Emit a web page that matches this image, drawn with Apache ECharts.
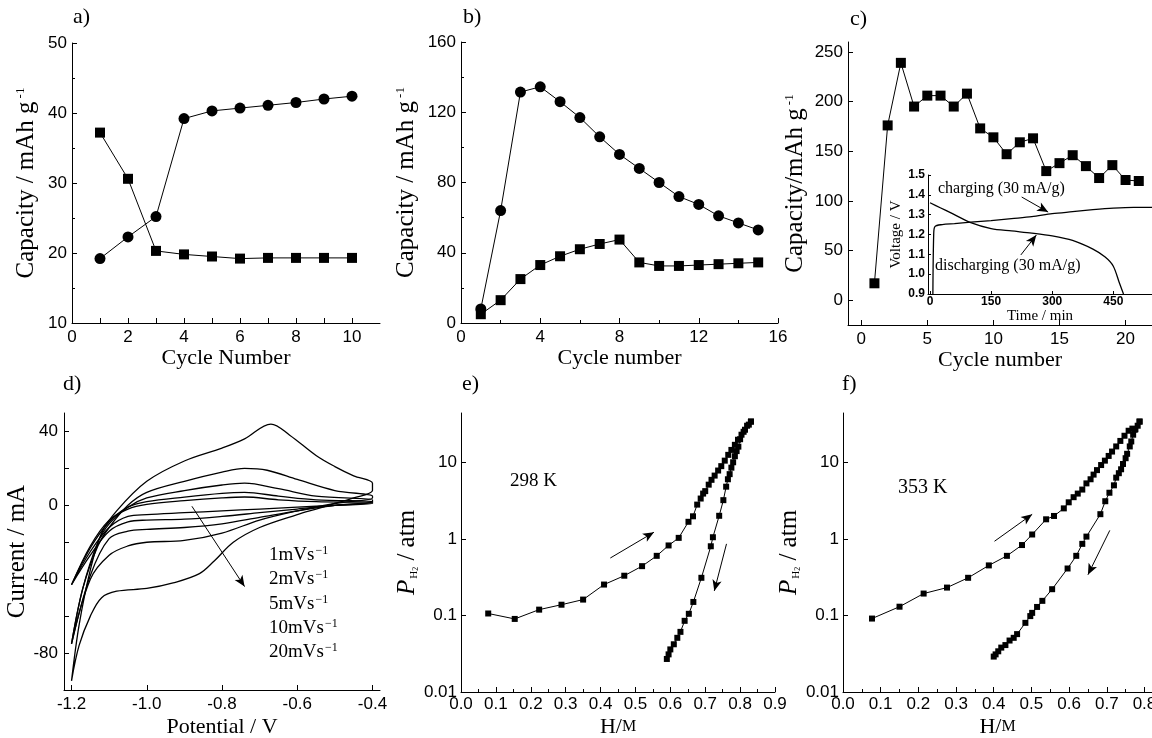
<!DOCTYPE html>
<html>
<head>
<meta charset="utf-8">
<script src="https://cdn.jsdelivr.net/npm/echarts@6/dist/echarts.min.js"></script>
<style>
html, body { margin: 0; padding: 0; background: #fff; }
#main { width: 1152px; height: 738px; }
</style>
</head>
<body>
<div id="main"></div>
<script>
// a)
const cyclesA = [1, 2, 3, 4, 5, 6, 7, 8, 9, 10];
const capA1 = [19.2, 22.3, 25.2, 39.2, 40.3, 40.7, 41.1, 41.5, 42.0, 42.4];
const capA2 = [37.2, 30.6, 20.3, 19.8, 19.5, 19.2, 19.3, 19.3, 19.3, 19.3];
// b)
const cyclesB = [1, 2, 3, 4, 5, 6, 7, 8, 9, 10, 11, 12, 13, 14, 15];
const capB1 = [8, 64, 131.5, 134.5, 126, 117, 106, 96, 88, 80, 72, 67.5, 61, 57, 53];
const capB2 = [5, 13, 25, 33, 38, 42, 45, 47.5, 34.5, 32.5, 32.5, 33, 33.5, 34, 34.5];
// c)
const cyclesC = [1, 2, 3, 4, 5, 6, 7, 8, 9, 10, 11, 12, 13, 14, 15, 16, 17, 18, 19, 20, 21];
const capC = [17, 176, 239, 195, 206, 206, 195, 208, 173, 164, 147, 159, 163, 130, 138, 146, 135, 123, 136, 121, 120];
const timeCharge = [7, 9, 12, 30, 60, 100, 150, 200, 250, 300, 350, 400, 450, 500, 545];
const voltCharge = [0.9, 1.2, 1.24, 1.25, 1.255, 1.262, 1.27, 1.28, 1.29, 1.305, 1.315, 1.325, 1.333, 1.337, 1.337];
const timeDischarge = [0, 25, 50, 100, 150, 200, 250, 300, 350, 400, 430, 450, 465, 475];
const voltDischarge = [1.36, 1.335, 1.31, 1.26, 1.23, 1.218, 1.207, 1.193, 1.17, 1.126, 1.086, 1.04, 0.955, 0.9];
// d) potential (V), current (mA)
const cvRates = ['1mVs', '2mVs', '5mVs', '10mVs', '20mVs'];
const cv1 = [[-1.2, -43], [-1.15, -22], [-1.1, -8], [-1.05, -2], [-1.0, 0.5], [-0.9, 2.5], [-0.8, 4], [-0.74, 4.5], [-0.65, 3], [-0.55, 2], [-0.4, 1.5],
  [-0.4, 1], [-0.5, 0], [-0.6, -1], [-0.7, -2], [-0.8, -3], [-0.9, -4], [-1.0, -5], [-1.05, -6], [-1.1, -12], [-1.15, -25], [-1.2, -43]];
const cv2 = [[-1.2, -43], [-1.15, -23], [-1.1, -9], [-1.05, -1], [-1.0, 2], [-0.9, 4.5], [-0.8, 6.5], [-0.74, 7], [-0.65, 5], [-0.55, 3], [-0.4, 2],
  [-0.4, 1.5], [-0.5, 0], [-0.6, -2], [-0.7, -4], [-0.8, -6], [-0.9, -7.5], [-1.0, -8], [-1.05, -9], [-1.1, -14], [-1.15, -27], [-1.2, -43]];
const cv5 = [[-1.2, -75], [-1.17, -45], [-1.13, -20], [-1.1, -10], [-1.05, -1], [-1.0, 4], [-0.9, 8], [-0.8, 11], [-0.74, 12], [-0.65, 9], [-0.55, 5], [-0.4, 3],
  [-0.4, 2], [-0.5, 0], [-0.6, -3], [-0.7, -6.5], [-0.8, -10], [-0.9, -12], [-1.0, -13], [-1.05, -14], [-1.1, -18], [-1.15, -38], [-1.2, -75]];
const cv10 = [[-1.2, -75], [-1.17, -45], [-1.13, -22], [-1.1, -12], [-1.05, 0], [-1.0, 7], [-0.9, 13], [-0.8, 18], [-0.74, 20], [-0.68, 19], [-0.6, 14], [-0.5, 8], [-0.4, 5],
  [-0.4, 4], [-0.5, 1], [-0.6, -3], [-0.7, -8], [-0.8, -15], [-0.9, -19], [-1.0, -20], [-1.05, -22], [-1.1, -27], [-1.15, -40], [-1.2, -75]];
const cv20 = [[-1.2, -95], [-1.18, -65], [-1.15, -35], [-1.12, -15], [-1.08, -3], [-1.0, 13], [-0.9, 24], [-0.8, 31], [-0.74, 36], [-0.67, 44], [-0.62, 38], [-0.55, 27], [-0.5, 21], [-0.45, 16], [-0.4, 12],
  [-0.4, 8], [-0.45, 4], [-0.5, 1], [-0.55, -2], [-0.6, -5], [-0.7, -12], [-0.77, -20], [-0.82, -30], [-0.86, -37], [-0.93, -42], [-1.0, -45], [-1.08, -46.5], [-1.12, -50], [-1.15, -60], [-1.18, -76], [-1.2, -95]];
// e) 298 K
const hmAbsE = [0.078, 0.154, 0.224, 0.288, 0.35, 0.41, 0.468, 0.519, 0.561, 0.595, 0.624, 0.652, 0.665, 0.677, 0.687, 0.694, 0.70, 0.71, 0.718, 0.727, 0.737, 0.746, 0.756, 0.766, 0.775, 0.785, 0.794, 0.804, 0.814, 0.825, 0.831];
const pAbsE = [0.106, 0.090, 0.119, 0.138, 0.161, 0.253, 0.33, 0.44, 0.60, 0.82, 1.03, 1.67, 1.97, 2.8, 3.36, 3.9, 4.2, 5.1, 5.9, 6.7, 7.8, 8.9, 10.5, 12.5, 14.5, 16.9, 19.7, 22.9, 26.6, 31, 34];
const hmDesE = [0.831, 0.82, 0.81, 0.80, 0.795, 0.79, 0.785, 0.78, 0.775, 0.77, 0.765, 0.76, 0.752, 0.74, 0.722, 0.716, 0.689, 0.666, 0.653, 0.641, 0.629, 0.62, 0.61, 0.60, 0.595, 0.59];
const pDesE = [34, 30, 25, 20, 16, 14, 12, 10, 8.5, 7, 6, 4.8, 3.2, 2, 1.05, 0.8, 0.31, 0.15, 0.105, 0.085, 0.061, 0.051, 0.042, 0.036, 0.031, 0.027];
// f) 353 K
const hmAbsF = [0.077, 0.150, 0.214, 0.276, 0.332, 0.387, 0.435, 0.475, 0.502, 0.539, 0.56, 0.586, 0.599, 0.612, 0.623, 0.635, 0.646, 0.657, 0.665, 0.674, 0.685, 0.695, 0.705, 0.714, 0.725, 0.736, 0.747, 0.758, 0.768, 0.776, 0.782, 0.787];
const pAbsF = [0.091, 0.13, 0.193, 0.231, 0.31, 0.45, 0.60, 0.83, 1.14, 1.8, 1.99, 2.5, 3.0, 3.5, 3.9, 4.4, 5.3, 6.0, 6.9, 7.9, 9.2, 10.5, 12.1, 13.8, 16.1, 19, 22.2, 25.8, 27.5, 27, 30, 34];
const hmDesF = [0.787, 0.774, 0.77, 0.765, 0.761, 0.754, 0.75, 0.743, 0.738, 0.732, 0.725, 0.719, 0.707, 0.696, 0.683, 0.646, 0.635, 0.619, 0.596, 0.555, 0.529, 0.515, 0.502, 0.497, 0.484, 0.462, 0.453, 0.442, 0.431, 0.42, 0.412, 0.405, 0.4];
const pDesF = [34, 26.6, 22.9, 18.7, 16.1, 12.9, 11.3, 9.5, 8.1, 7.2, 6.3, 5.0, 4.0, 3.1, 2.1, 1.07, 0.86, 0.60, 0.41, 0.22, 0.155, 0.129, 0.108, 0.098, 0.080, 0.057, 0.051, 0.047, 0.041, 0.038, 0.034, 0.031, 0.029];

const SERIF = 'Liberation Serif';
const SANS = 'Liberation Sans';
const TICK_FS = 17;
const YNAME_FS = 25;

function zip(xs, ys) {
  return xs.map((x, i) => [x, ys[i]]);
}

function axis(gridIndex, opt) {
  return Object.assign({
    gridIndex: gridIndex,
    type: 'value',
    nameLocation: 'middle',
    axisLine: { show: true, onZero: false, lineStyle: { color: '#000', width: 1 } },
    axisTick: { show: true, inside: true, length: 5, lineStyle: { color: '#000' } },
    axisLabel: { color: '#000', fontFamily: SANS, fontSize: TICK_FS, margin: 5 },
    splitLine: { show: false },
    nameTextStyle: { color: '#000', fontFamily: SERIF, fontSize: 22 }
  }, opt);
}

function label(opt) {
  return Object.assign({ color: '#000', fontFamily: SANS, fontSize: TICK_FS, margin: 5 }, opt);
}

function ticks(opt) {
  return Object.assign({ show: true, inside: true, length: 5, lineStyle: { color: '#000' } }, opt);
}

const minor = { show: true, splitNumber: 2, length: 3, lineStyle: { color: '#000' } };

function capName(text) {
  return {
    name: '{n|' + text + '}{s|-1}',
    nameTextStyle: {
      rich: {
        n: { fontFamily: SERIF, fontSize: YNAME_FS, color: '#000' },
        s: { fontFamily: SERIF, fontSize: 13, color: '#000', verticalAlign: 'top', padding: [0, 0, 11, 3] }
      }
    }
  };
}
const pName = {
  name: '{p|P}{s|H}{t|2}{n| / atm}',
  nameTextStyle: {
    rich: {
      p: { fontFamily: SERIF, fontSize: YNAME_FS, fontStyle: 'italic', color: '#000' },
      s: { fontFamily: SERIF, fontSize: 11, color: '#000', verticalAlign: 'bottom', padding: [11, 0, 0, 1] },
      t: { fontFamily: SERIF, fontSize: 8, color: '#000', verticalAlign: 'bottom', padding: [13, 0, 0, 0] },
      n: { fontFamily: SERIF, fontSize: YNAME_FS, color: '#000' }
    }
  }
};
const hmName = {
  name: '{n|H/}{m|M}',
  nameTextStyle: {
    rich: {
      n: { fontFamily: SERIF, fontSize: 22, color: '#000' },
      m: { fontFamily: SERIF, fontSize: 16, color: '#000' }
    }
  }
};

const arrow = {
  silent: true,
  symbol: ['none', 'arrow'],
  symbolSize: [7, 11],
  label: { show: false },
  lineStyle: { color: '#000', width: 1, type: 'solid' },
  emphasis: { disabled: true }
};

function line(xi, yi, data, symbol, size, extra) {
  return Object.assign({
    type: 'line',
    xAxisIndex: xi,
    yAxisIndex: yi,
    data: data,
    symbol: symbol,
    symbolSize: size,
    showSymbol: symbol !== 'none',
    lineStyle: { color: '#000', width: 1 },
    itemStyle: { color: '#000' },
    silent: true
  }, extra || {});
}

const chart = echarts.init(document.getElementById('main'), null, { renderer: 'canvas' });

const cvLoops = [cv1, cv2, cv5, cv10, cv20];

chart.setOption({
  animation: false,
  backgroundColor: '#fff',
  grid: [
    { left: 72, top: 43, width: 308, height: 280, outerBoundsMode: 'none' },
    { left: 461, top: 42, width: 317, height: 281, outerBoundsMode: 'none' },
    { left: 848, top: 42, width: 304, height: 283, outerBoundsMode: 'none' },
    { left: 928, top: 175, width: 224, height: 119, outerBoundsMode: 'none' },
    { left: 64, top: 413, width: 316, height: 277, outerBoundsMode: 'none' },
    { left: 461, top: 413, width: 314, height: 279, outerBoundsMode: 'none' },
    { left: 843, top: 413, width: 309, height: 279, outerBoundsMode: 'none' }
  ],
  xAxis: [
    axis(0, { min: 0, max: 11, name: 'Cycle Number', nameGap: 24,
      axisLabel: label({ margin: 6, customValues: [0, 2, 4, 6, 8, 10] }),
      axisTick: ticks({ customValues: [0, 1, 2, 3, 4, 5, 6, 7, 8, 9, 10] }) }),
    axis(1, { min: 0, max: 16, interval: 4, name: 'Cycle number', nameGap: 24,
      axisLabel: label({ margin: 6 }), minorTick: minor }),
    axis(2, { min: -1, max: 22, name: 'Cycle number', nameGap: 24,
      axisLabel: label({ margin: 6, customValues: [0, 5, 10, 15, 20] }),
      axisTick: ticks({ customValues: [0, 5, 10, 15, 20] }) }),
    axis(3, { min: -5, max: 545, name: 'Time / min', nameGap: 14,
      nameTextStyle: { color: '#000', fontFamily: SERIF, fontSize: 15 },
      axisLabel: label({ fontSize: 12, fontWeight: 'bold', margin: 2, customValues: [0, 150, 300, 450] }),
      axisTick: ticks({ length: 3, customValues: [0, 150, 300, 450] }) }),
    axis(4, { min: -1.22, max: -0.38, name: 'Potential / V', nameGap: 26,
      axisLabel: label({ margin: 6, customValues: [-1.2, -1.0, -0.8, -0.6, -0.4], formatter: v => v.toFixed(1) }),
      axisTick: ticks({ customValues: [-1.2, -1.0, -0.8, -0.6, -0.4] }) }),
    axis(5, Object.assign({ min: 0, max: 0.9, interval: 0.1, nameGap: 24,
      axisLabel: label({ margin: 4, formatter: v => v.toFixed(1) }), minorTick: minor }, hmName)),
    axis(6, Object.assign({ min: 0, max: 0.82, interval: 0.1, nameGap: 24,
      axisLabel: label({ margin: 4, showMaxLabel: false, formatter: v => v.toFixed(1) }), minorTick: minor }, hmName))
  ],
  yAxis: [
    axis(0, Object.assign({ min: 10, max: 50, interval: 10, nameGap: 33, minorTick: minor }, capName('Capacity / mAh g'))),
    axis(1, Object.assign({ min: 0, max: 160, interval: 40, nameGap: 42, minorTick: minor }, capName('Capacity / mAh g'))),
    axis(2, Object.assign({ min: -25, max: 260, nameGap: 40,
      axisLabel: label({ customValues: [0, 50, 100, 150, 200, 250] }),
      axisTick: ticks({ customValues: [0, 50, 100, 150, 200, 250] }) }, capName('Capacity/mAh g'))),
    axis(3, { min: 0.9, max: 1.5, interval: 0.1, name: 'Voltage / V', nameGap: 24,
      nameTextStyle: { color: '#000', fontFamily: SERIF, fontSize: 15 },
      axisLabel: label({ fontSize: 12, fontWeight: 'bold', margin: 3, formatter: v => v.toFixed(1) }),
      axisTick: ticks({ length: 3 }) }),
    axis(4, { min: -100, max: 50, name: 'Current / mA', nameGap: 31,
      nameTextStyle: { color: '#000', fontFamily: SERIF, fontSize: YNAME_FS },
      axisLabel: label({ margin: 6, customValues: [-80, -40, 0, 40] }),
      axisTick: ticks({ customValues: [-80, -60, -40, -20, 0, 20, 40] }) }),
    axis(5, Object.assign({ type: 'log', logBase: 10, min: 0.01, max: 44, nameGap: 37,
      axisLabel: label({ margin: 4, showMaxLabel: false }) }, pName)),
    axis(6, Object.assign({ type: 'log', logBase: 10, min: 0.01, max: 44, nameGap: 30,
      axisLabel: label({ margin: 4, showMaxLabel: false }) }, pName))
  ],
  series: [
    line(0, 0, zip(cyclesA, capA1), 'circle', 11),
    line(0, 0, zip(cyclesA, capA2), 'rect', 10),
    line(1, 1, zip(cyclesB, capB1), 'circle', 11),
    line(1, 1, zip(cyclesB, capB2), 'rect', 10),
    line(2, 2, zip(cyclesC, capC), 'rect', 10),
    line(3, 3, zip(timeCharge, voltCharge), 'none', 0, { smooth: 0.3, lineStyle: { color: '#000', width: 1.3 },
      markLine: Object.assign({ data: [[{ coord: [225, 1.389] }, { coord: [290, 1.313] }]] }, arrow) }),
    line(3, 3, zip(timeDischarge, voltDischarge), 'none', 0, { smooth: 0.3, lineStyle: { color: '#000', width: 1.3 },
      markLine: Object.assign({ data: [[{ coord: [223, 1.097] }, { coord: [261, 1.197] }]] }, arrow) })
  ].concat(cvLoops.map((loop, i) => line(4, 4, loop, 'none', 0, i === 0 ? {
    smooth: 0.35, lineStyle: { color: '#000', width: 1.3 },
    markLine: Object.assign({ data: [[{ coord: [-0.88, -0.5] }, { coord: [-0.74, -44] }]] }, arrow)
  } : { smooth: 0.35, lineStyle: { color: '#000', width: 1.3 } }))).concat([
    line(5, 5, zip(hmAbsE, pAbsE), 'rect', 6, {
      markLine: Object.assign({ data: [
        [{ coord: [0.428, 0.562] }, { coord: [0.553, 1.22] }],
        [{ coord: [0.761, 0.86] }, { coord: [0.726, 0.209] }]
      ] }, arrow) }),
    line(5, 5, zip(hmDesE, pDesE), 'rect', 6),
    line(6, 6, zip(hmAbsF, pAbsF), 'rect', 6, {
      markLine: Object.assign({ data: [
        [{ coord: [0.402, 0.93] }, { coord: [0.502, 2.09] }],
        [{ coord: [0.708, 1.29] }, { coord: [0.65, 0.34] }]
      ] }, arrow) }),
    line(6, 6, zip(hmDesF, pDesF), 'rect', 6)
  ]),
  graphic: [
    { type: 'text', left: 73, top: 6, style: { text: 'a)', font: '22px "Liberation Serif"', fill: '#000' } },
    { type: 'text', left: 463, top: 6, style: { text: 'b)', font: '22px "Liberation Serif"', fill: '#000' } },
    { type: 'text', left: 850, top: 8, style: { text: 'c)', font: '22px "Liberation Serif"', fill: '#000' } },
    { type: 'text', left: 63, top: 373, style: { text: 'd)', font: '22px "Liberation Serif"', fill: '#000' } },
    { type: 'text', left: 462, top: 373, style: { text: 'e)', font: '22px "Liberation Serif"', fill: '#000' } },
    { type: 'text', left: 842, top: 373, style: { text: 'f)', font: '22px "Liberation Serif"', fill: '#000' } },
    { type: 'text', left: 938, top: 181, style: { text: 'charging (30 mA/g)', font: '16px "Liberation Serif"', fill: '#000' } },
    { type: 'text', left: 935, top: 258, style: { text: 'discharging (30 mA/g)', font: '16px "Liberation Serif"', fill: '#000' } },
    { type: 'text', left: 510, top: 472, style: { text: '298 K', font: '19px "Liberation Serif"', fill: '#000' } },
    { type: 'text', left: 898, top: 478, style: { text: '353 K', font: '20px "Liberation Serif"', fill: '#000' } }
  ].concat(cvRates.map((r, i) => ({
    type: 'text', left: 269, top: 545 + i * 24.3,
    style: {
      text: '{n|' + r + '}{s|−1}',
      fill: '#000',
      rich: {
        n: { fontFamily: SERIF, fontSize: 19, fill: '#000' },
        s: { fontFamily: SERIF, fontSize: 12, fill: '#000', verticalAlign: 'top', padding: [0, 0, 8, 1] }
      }
    }
  })))
});
</script>
</body>
</html>
